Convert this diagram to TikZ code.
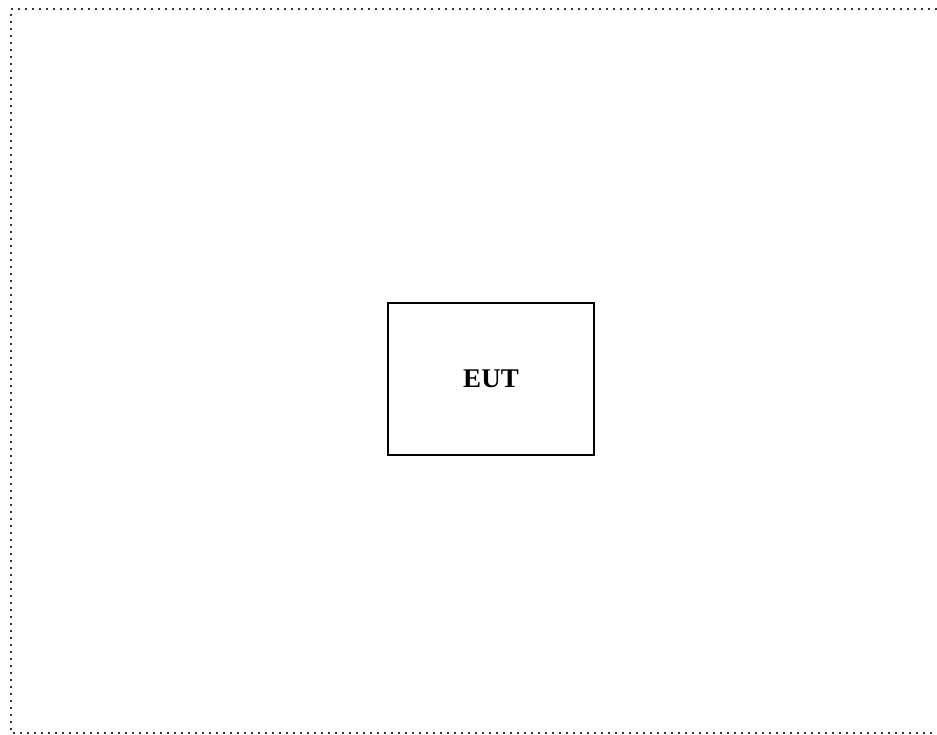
\documentclass[tikz,border=0pt]{standalone}
\usepackage{fontspec}
\setmainfont{Liberation Serif}
\usetikzlibrary{positioning}

\begin{document}
\begin{tikzpicture}[x=1pt,y=-1pt,
  frame/.style={draw=black!80,line width=1.8pt,dash pattern=on 1.8pt off 5.2pt},
  eutbox/.style={draw,line width=2.4pt,minimum width=206pt,minimum height=152pt,
    font=\fontsize{27}{32}\selectfont\bfseries}]
\useasboundingbox (0,0) rectangle (937,735);
% test area (open at the right edge)
\draw[frame] (937,9) -- (11,9) -- (11,733) -- (937,733);
\node[eutbox] (eut) at (491,379) {EUT};
\end{tikzpicture}
\end{document}
